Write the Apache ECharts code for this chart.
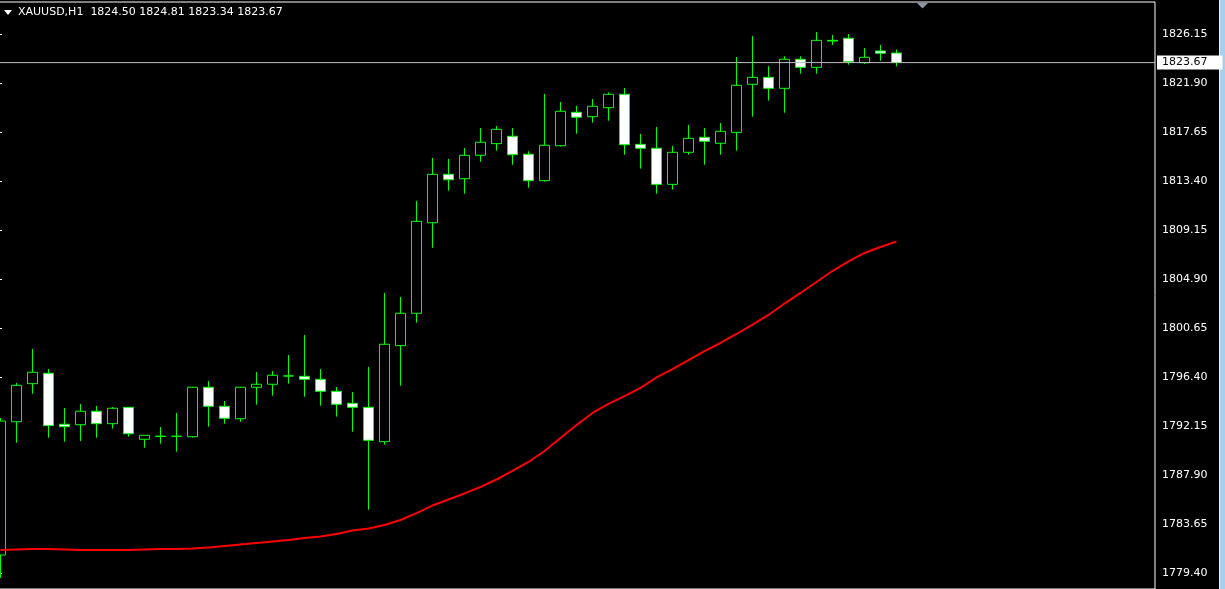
<!DOCTYPE html>
<html>
<head>
<meta charset="utf-8">
<script src="https://cdn.jsdelivr.net/npm/echarts@6/dist/echarts.min.js"></script>
<style>
html,body{margin:0;padding:0;background:#000;}
#chart{width:1225px;height:589px;}
</style>
</head>
<body>
<div id="chart"></div>
<script>
const SYMBOL = 'XAUUSD';
const TIMEFRAME = 'H1';

const OPEN = [1780.96, 1792.52, 1795.82, 1796.72, 1792.30, 1792.26, 1793.43, 1792.35, 1793.77, 1791.00,
  1791.27, 1791.26, 1791.22, 1795.51, 1793.86, 1792.78, 1795.51, 1795.77, 1796.49, 1796.46,
  1796.20, 1795.16, 1794.12, 1793.77, 1790.79, 1799.12, 1801.93, 1809.78, 1813.98, 1813.60,
  1815.63, 1816.64, 1817.28, 1815.72, 1813.43, 1816.46, 1819.36, 1818.98, 1819.76, 1820.92,
  1816.58, 1816.24, 1813.11, 1815.89, 1817.19, 1816.67, 1817.62, 1821.79, 1822.39, 1821.44,
  1823.96, 1823.26, 1825.60, 1825.78, 1823.66, 1824.68, 1824.50];
const CLOSE = [1792.58, 1795.68, 1796.81, 1792.18, 1792.09, 1793.43, 1792.35, 1793.69, 1791.48, 1791.34,
  1791.25, 1791.26, 1795.51, 1793.86, 1792.82, 1795.51, 1795.77, 1796.55, 1796.49, 1796.20,
  1795.16, 1794.03, 1793.77, 1790.91, 1799.24, 1801.93, 1809.90, 1813.98, 1813.51, 1815.63,
  1816.76, 1817.88, 1815.68, 1813.43, 1816.50, 1819.45, 1818.93, 1819.88, 1820.92, 1816.55,
  1816.24, 1813.11, 1815.89, 1817.10, 1816.84, 1817.71, 1821.70, 1822.39, 1821.44, 1823.96,
  1823.26, 1825.60, 1825.54, 1823.75, 1824.13, 1824.48, 1823.67];
const HIGH = [1792.84, 1795.88, 1798.83, 1797.09, 1793.71, 1794.06, 1793.89, 1793.80, 1793.80, 1791.34,
  1792.06, 1793.28, 1795.55, 1796.05, 1794.32, 1795.55, 1796.83, 1796.92, 1798.31, 1800.04,
  1797.09, 1795.53, 1795.10, 1797.27, 1803.69, 1803.34, 1811.67, 1815.40, 1815.31, 1816.26,
  1818.00, 1818.17, 1818.00, 1815.98, 1820.95, 1820.25, 1819.91, 1820.51, 1821.09, 1821.47,
  1817.48, 1818.08, 1816.44, 1818.26, 1818.00, 1818.43, 1824.16, 1825.98, 1823.37, 1824.22,
  1824.22, 1826.32, 1826.06, 1826.15, 1824.94, 1825.20, 1824.81];
const LOW = [1778.97, 1790.70, 1794.95, 1791.14, 1790.79, 1790.85, 1791.14, 1791.92, 1791.22, 1790.27,
  1790.61, 1789.92, 1791.14, 1792.09, 1792.35, 1792.52, 1794.00, 1794.78, 1795.82, 1794.69,
  1793.91, 1792.96, 1791.66, 1784.89, 1790.53, 1795.65, 1801.11, 1807.61, 1812.56, 1812.30,
  1815.07, 1816.03, 1814.81, 1812.82, 1813.34, 1816.40, 1817.50, 1818.46, 1818.63, 1815.68,
  1814.47, 1812.30, 1812.65, 1815.68, 1814.81, 1815.68, 1816.03, 1818.98, 1820.37, 1819.32,
  1822.71, 1822.71, 1825.20, 1823.49, 1823.57, 1823.83, 1823.34];
const MA = [1781.40, 1781.44, 1781.48, 1781.48, 1781.44, 1781.40, 1781.40, 1781.40, 1781.40, 1781.44,
  1781.48, 1781.48, 1781.52, 1781.61, 1781.74, 1781.87, 1782.00, 1782.13, 1782.26, 1782.44,
  1782.57, 1782.78, 1783.09, 1783.26, 1783.56, 1784.00, 1784.60, 1785.25, 1785.78, 1786.30,
  1786.86, 1787.51, 1788.25, 1789.03, 1789.98, 1791.11, 1792.24, 1793.28, 1794.06, 1794.75,
  1795.45, 1796.36, 1797.09, 1797.87, 1798.65, 1799.35, 1800.13, 1800.95, 1801.78, 1802.77,
  1803.69, 1804.64, 1805.59, 1806.42, 1807.16, 1807.68, 1808.15];
const PRICE_TICKS = [1779.40, 1783.65, 1787.90, 1792.15, 1796.40, 1800.65, 1804.90, 1809.15,
  1813.40, 1817.65, 1821.90, 1826.15];
const Y_MIN = 1778.012;
const Y_MAX = 1828.926;
const EMPTY_SLOTS = 15;

const N = OPEN.length;
const CATEGORIES = [];
for (let i = 0; i < N + EMPTY_SLOTS; i++) CATEGORIES.push(i < N ? 'bar' + (i + 1) : '');
const candles = OPEN.map((o, i) => [o, CLOSE[i], LOW[i], HIGH[i]]);
const last = N - 1;
const LAST_PRICE = CLOSE[last];
const fmt = v => v.toFixed(2);
const header = SYMBOL + ',' + TIMEFRAME + '  ' + fmt(OPEN[last]) + ' ' + fmt(HIGH[last]) + ' ' + fmt(LOW[last]) + ' ' + fmt(CLOSE[last]);

const FONT = '"DejaVu Sans", sans-serif';
const chart = echarts.init(document.getElementById('chart'), null, {renderer: 'canvas'});
chart.setOption({
  backgroundColor: '#000',
  animation: false,
  grid: [
    {left: -7.5, top: 2, width: 16 * CATEGORIES.length, bottom: 0, containLabel: false, outerBoundsMode: 'none'},
    {left: -1, top: 2, right: 70, bottom: 0, containLabel: false, outerBoundsMode: 'none',
      show: true, borderColor: '#ffffff', borderWidth: 1, backgroundColor: 'transparent'}
  ],
  xAxis: [
    {gridIndex: 0, type: 'category', data: CATEGORIES, boundaryGap: true, show: false},
    {gridIndex: 1, type: 'value', min: 0, max: 1, show: false}
  ],
  yAxis: [
    {gridIndex: 0, type: 'value', min: Y_MIN, max: Y_MAX, show: false},
    {gridIndex: 1, type: 'value', min: Y_MIN, max: Y_MAX, position: 'right',
      axisLine: {show: true, lineStyle: {color: '#ffffff', width: 1}},
      axisTick: {show: true, inside: false, length: 3, lineStyle: {color: '#ffffff'}, customValues: PRICE_TICKS},
      axisLabel: {show: true, color: '#ffffff', fontSize: 11, fontFamily: FONT, margin: 7,
        customValues: PRICE_TICKS, formatter: v => fmt(v)},
      splitLine: {show: false}
    }
  ],
  series: [
    {
      type: 'candlestick', xAxisIndex: 0, yAxisIndex: 0, data: candles, barWidth: 10, silent: true,
      itemStyle: {color: '#000000', color0: '#ffffff', borderColor: '#00ff00', borderColor0: '#00ff00',
        borderColorDoji: '#00ff00', borderWidth: 1}
    },
    {
      type: 'line', xAxisIndex: 0, yAxisIndex: 0, data: MA, symbol: 'none', silent: true,
      lineStyle: {color: '#ff0000', width: 2}, smooth: false
    },
    {
      type: 'line', xAxisIndex: 1, yAxisIndex: 1, data: [[0, LAST_PRICE], [1, LAST_PRICE]],
      symbol: 'none', silent: true, lineStyle: {color: '#c0c0c0', width: 1},
      endLabel: {show: true, formatter: () => fmt(LAST_PRICE), color: '#000', backgroundColor: '#fff',
        fontSize: 11, fontFamily: FONT, padding: [2, 15, 1, 5], distance: 2}
    }
  ],
  graphic: [
    {type: 'polygon', shape: {points: [[4, 10], [12, 10], [8, 15]]}, style: {fill: '#ffffff'}, silent: true},
    {type: 'text', left: 18, top: 7, style: {text: header, fill: '#ffffff', font: '11px ' + FONT}, silent: true},
    {type: 'polygon', shape: {points: [[917, 3], [928, 3], [922.5, 8.5]]}, style: {fill: '#8a98a6'}, silent: true},
    {type: 'rect', shape: {x: 1219, y: 0, width: 6, height: 589}, style: {fill: '#a8d0ea'}, silent: true},
    {type: 'rect', shape: {x: 1219, y: 0, width: 1, height: 589}, style: {fill: '#e8f4fb'}, silent: true}
  ]
});
</script>
</body>
</html>
